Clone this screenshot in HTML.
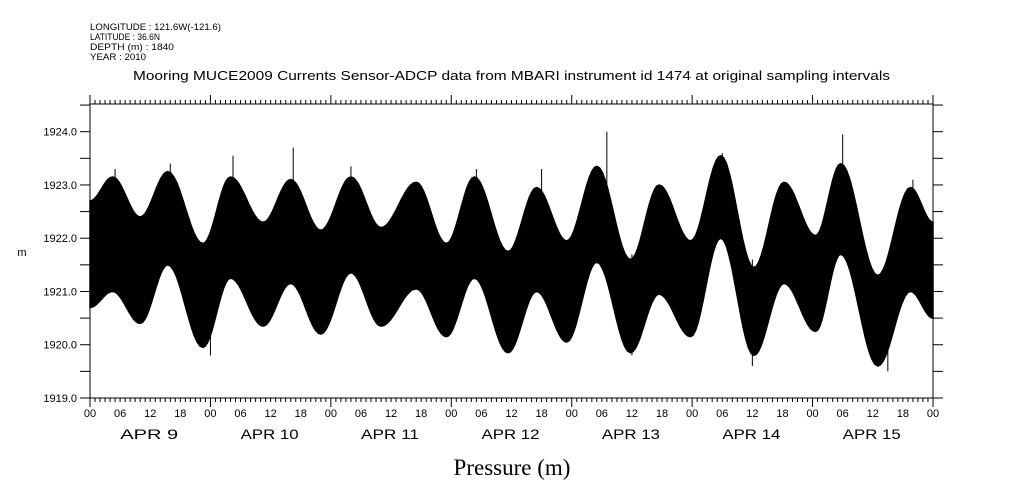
<!DOCTYPE html>
<html><head><meta charset="utf-8"><style>
html,body{margin:0;padding:0;background:#fff;width:1009px;height:504px;overflow:hidden}
svg text{font-family:"Liberation Sans","DejaVu Sans",sans-serif;fill:#000}
</style></head><body>
<svg id="chart" width="1009" height="504" viewBox="0 0 1009 504" xmlns="http://www.w3.org/2000/svg">
<g font-size="9">
<text x="90" y="30" textLength="131" lengthAdjust="spacingAndGlyphs">LONGITUDE : 121.6W(-121.6)</text>
<text x="90" y="40" textLength="70" lengthAdjust="spacingAndGlyphs">LATITUDE : 36.6N</text>
<text x="90" y="50" textLength="84" lengthAdjust="spacingAndGlyphs">DEPTH (m) : 1840</text>
<text x="90" y="60" textLength="56" lengthAdjust="spacingAndGlyphs">YEAR : 2010</text>
</g>
<text x="133" y="80" font-size="12.5" textLength="757" lengthAdjust="spacingAndGlyphs">Mooring MUCE2009 Currents Sensor-ADCP data from MBARI instrument id 1474 at original sampling intervals</text>
<text x="22" y="256" font-size="11" text-anchor="middle">m</text>
<text x="512" y="475" font-size="23" text-anchor="middle" style="font-family:'Liberation Serif',serif">Pressure (m)</text>
<g id="axes"></g>
<g id="marks"></g>
</svg>
<script>
// envelope extrema: hours since Apr 9 00:00
const hours = [0,4.5,10,15.5,22.5,28,34.5,40,46,52,58,65,71,76.6,83.3,89,95,101,107.7,113.4,119.7,125.7,132.3,138.3,144.6,149.6,157,163.5,168];
const upper = [1922.7,1923.15,1922.4,1923.25,1921.9,1923.15,1922.3,1923.1,1922.15,1923.15,1922.2,1923.05,1921.9,1923.15,1921.75,1922.95,1921.95,1923.35,1921.6,1923.0,1921.95,1923.55,1921.45,1923.05,1922.05,1923.4,1921.3,1922.95,1922.3];
const lower = [1920.7,1921.0,1920.4,1921.5,1919.95,1921.25,1920.35,1921.15,1920.2,1921.35,1920.35,1921.05,1920.15,1921.25,1919.85,1921.0,1920.05,1921.55,1919.85,1920.95,1920.15,1922.0,1919.8,1921.15,1920.25,1921.7,1919.6,1921.0,1920.5];
// notable spikes: hour, top value, bottom value
const spikeHours = [5,16,28.5,40.5,52,77,90,103,126,150,164,159,108,24,132];
const spikeTop = [1923.3,1923.4,1923.55,1923.7,1923.35,1923.3,1923.3,1924.0,1923.6,1923.95,1923.1,1921.3,1921.7,1922.0,1921.6];
const spikeBottom = [1922.0,1922.0,1922.0,1922.0,1922.0,1922.0,1922.0,1922.0,1922.0,1922.0,1922.0,1919.5,1919.8,1919.8,1919.6];
const yTicks = [1919,1920,1921,1922,1923,1924];
const yTickLabels = ["1919.0","1920.0","1921.0","1922.0","1923.0","1924.0"];
const hourLabels = ["00","06","12","18"];
const dayLabels = ["APR  9","APR 10","APR 11","APR 12","APR 13","APR 14","APR 15"];

const X0=90, X1=933, Y0=104, Y1=398, H=168, VMIN=1919, VMAX=1924.52;
const xs = h => X0 + (X1-X0)*h/H;
const ys = v => Y1 - (Y1-Y0)*(v-VMIN)/(VMAX-VMIN);
const NS="http://www.w3.org/2000/svg";
const axes=document.getElementById('axes'), marks=document.getElementById('marks');
function mk(tag,attrs,parent){const e=document.createElementNS(NS,tag);for(const k in attrs)e.setAttribute(k,attrs[k]);parent.appendChild(e);return e;}

// cosine interpolation between extrema
function curve(vals){
  const out=[];
  for(let i=0;i<hours.length-1;i++){
    for(let k=0;k<12;k++){
      const t=k/12, w=(1-Math.cos(Math.PI*t))/2;
      const h=hours[i]+(hours[i+1]-hours[i])*t;
      out.push([xs(h),ys(vals[i]+(vals[i+1]-vals[i])*w)]);
    }
  }
  out.push([xs(hours[hours.length-1]),ys(vals[vals.length-1])]);
  return out;
}
const up=curve(upper), lo=curve(lower);
const pts=up.concat(lo.reverse()).map(p=>p[0].toFixed(1)+','+p[1].toFixed(1));
const band=mk('polygon',{points:pts.join(' '),fill:'#000',stroke:'#000','stroke-width':'1.5'},marks);


for(let i=0;i<spikeHours.length;i++){
  const s=mk('line',{x1:xs(spikeHours[i]),x2:xs(spikeHours[i]),y1:ys(spikeTop[i]),y2:ys(spikeBottom[i]),stroke:'#000','stroke-width':'1'},marks);
  
  
}

const fr=mk('rect',{x:X0,y:Y0,width:X1-X0,height:Y1-Y0,fill:'none',stroke:'#000','stroke-width':'1'},axes);


for(let v=1919;v<=1924.5;v+=0.5){
  const y=ys(v);
  mk('line',{x1:X0-10,x2:X0,y1:y,y2:y,stroke:'#000'},axes);
  mk('line',{x1:X1,x2:X1+10,y1:y,y2:y,stroke:'#000'},axes);
}
for(let i=0;i<yTicks.length;i++){
  const t=mk('text',{x:X0-13,y:ys(yTicks[i])+4,'font-size':'11','text-anchor':'end'},axes);
  t.textContent=yTickLabels[i];
  
  
}
for(let h=0;h<=H;h++){
  const x=xs(h), major=h%24===0;
  mk('line',{x1:x,x2:x,y1:Y0,y2:Y0-(major?9:4),stroke:'#000'},axes);
  mk('line',{x1:x,x2:x,y1:Y1,y2:Y1+(major?9:4),stroke:'#000'},axes);
}
for(let h=0;h<=H;h+=6){
  const t=mk('text',{x:xs(h),y:417,'font-size':'11','text-anchor':'middle'},axes);
  t.textContent=hourLabels[(h/6)%4];
  
  
}
for(let d=0;d<dayLabels.length;d++){
  const t=mk('text',{x:xs(d*24+12)-30,y:439,'font-size':'14','xml:space':'preserve',textLength:'58',lengthAdjust:'spacingAndGlyphs'},axes);
  t.textContent=dayLabels[d];
  
  
}
</script>
</body></html>
